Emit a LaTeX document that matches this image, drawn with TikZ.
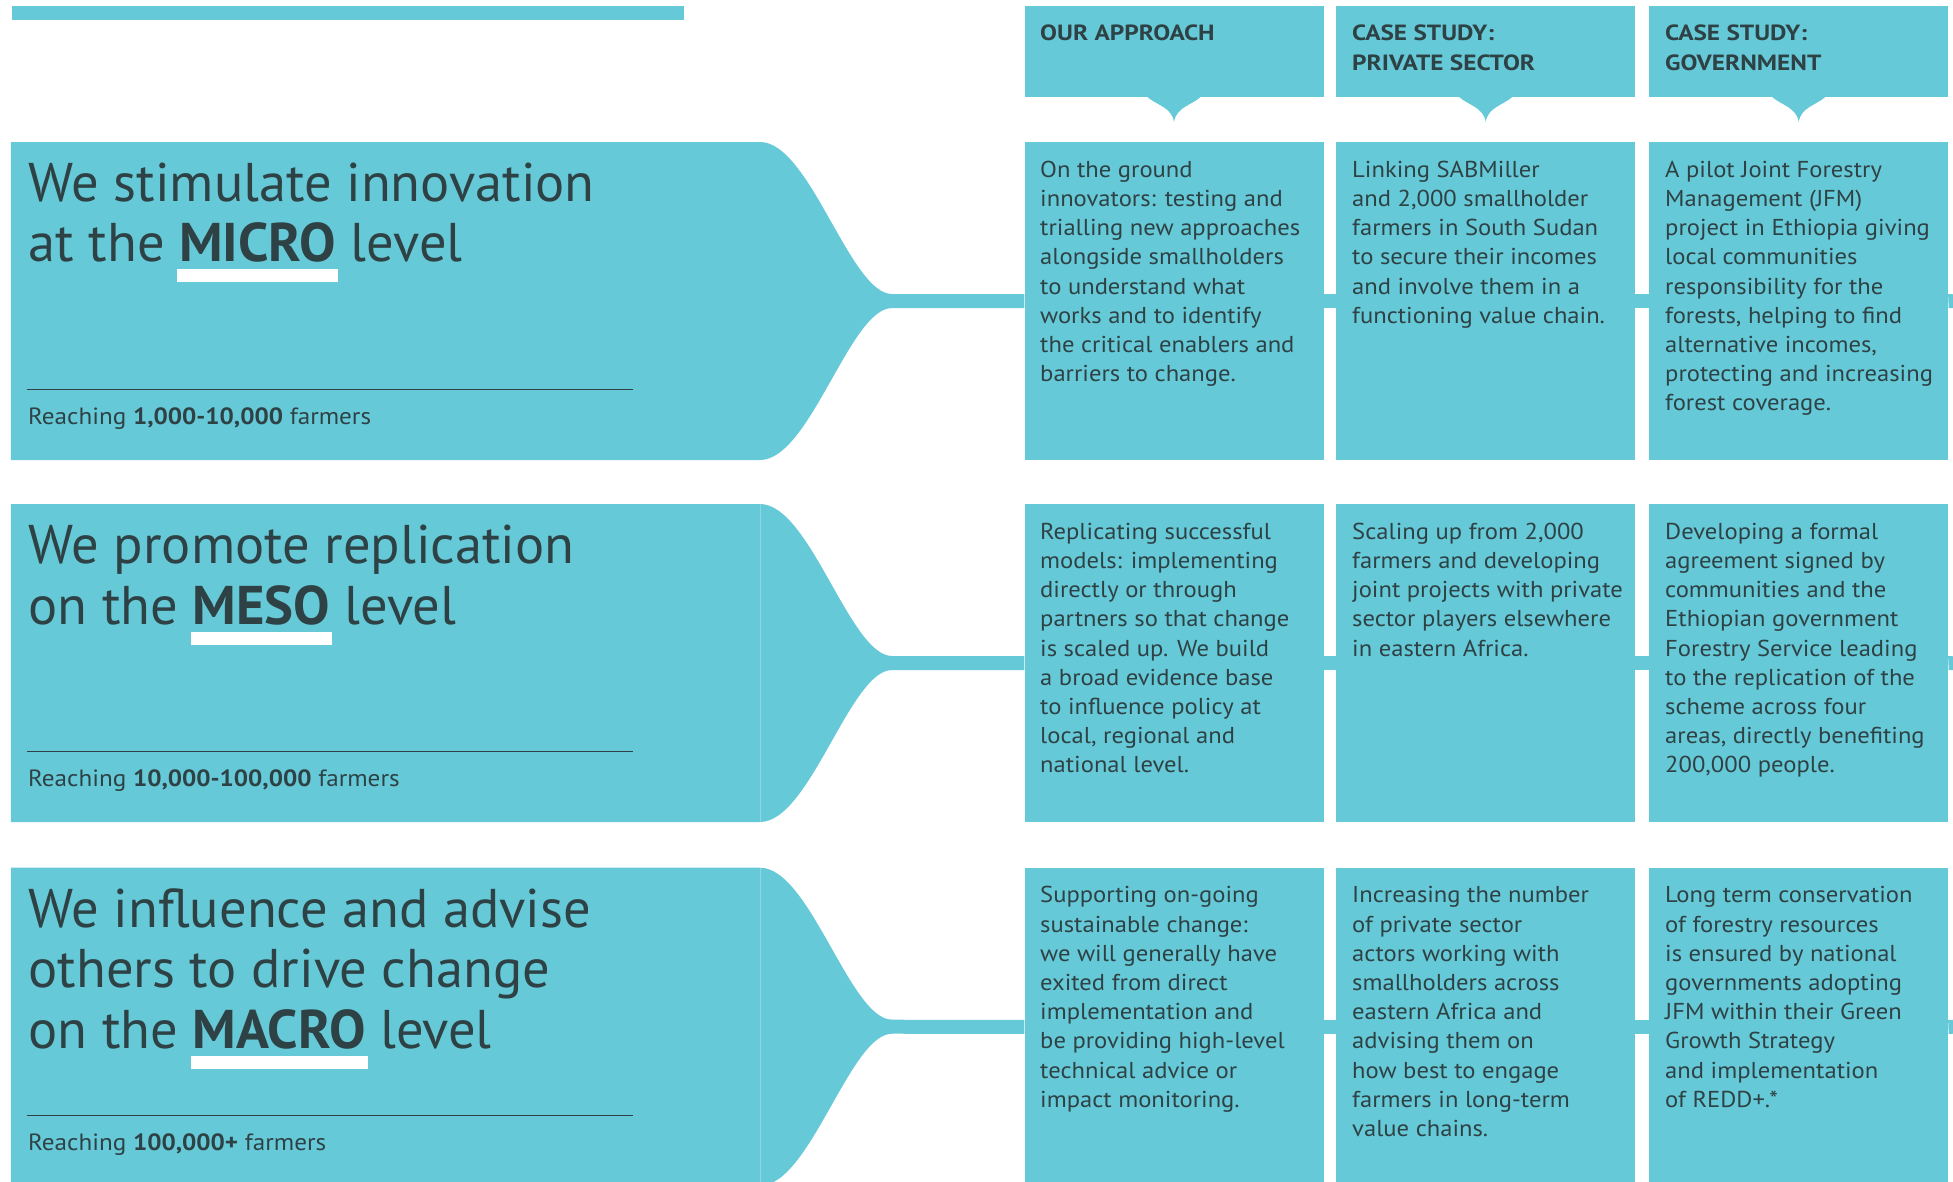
\documentclass[tikz,border=0pt]{standalone}
\usepackage{fontspec}
\setmainfont{PT Sans}
\newfontfamily\bodyfont{PT Sans}[FakeStretch=1.07]
\newfontfamily\headfont{PT Sans Bold}[FakeStretch=1.15]
\usetikzlibrary{calc}
\definecolor{teal1}{HTML}{66C9D7}
\definecolor{ink}{HTML}{2E4245}
\newcommand\ulword[1]{\setbox0=\hbox{\bfseries #1}\rlap{\kern-2pt\textcolor{white}{\rule[-20.3pt]{\dimexpr\wd0+4pt\relax}{12.6pt}}}\box0\relax}
\newcommand\fl[1]{\rule{0pt}{#1}}
\newcommand\bannerpath[3]{% #1 top, #2 neck coordinate name, #3 seam (1/0)
  \fill[teal1] (10.8,#1) -- (760,#1) .. controls (810,#1) and (850,{#1+152}) .. (892,{#1+152})
     -- (892,{#1+166}) .. controls (850,{#1+166}) and (810,{#1+318}) .. (760,{#1+318})
     -- (10.8,{#1+318}) -- cycle;
  \ifnum#3=1 \draw[teal1!75!white, line width=0.8pt] (760,#1) -- (760,{#1+318}); \fi
  \coordinate (#2) at (880,{#1+159});
  \draw[ink, line width=1.2pt] (27,{#1+247.5}) -- (633,{#1+247.5});
}
\begin{document}
\begin{tikzpicture}[x=1pt, y=-1pt,
  box/.style={fill=teal1, draw=none, minimum width=299pt, minimum height=318pt, anchor=north west, inner sep=0pt},
  headbox/.style={box, minimum height=90.7pt},
  body/.style={anchor=north west, align=left, inner sep=0pt, text=ink, font=\bodyfont\fontsize{23}{29.2}\selectfont},
  head/.style={anchor=north west, align=left, inner sep=0pt, text=ink, font=\headfont\fontsize{22}{30}\selectfont},
  title/.style={anchor=north west, align=left, inner sep=0pt, text=ink, font=\fontsize{54.5}{60.5}\selectfont},
  reach/.style={anchor=base west, inner sep=0pt, text=ink, font=\bodyfont\fontsize{23.5}{28}\selectfont},
  band/.style={draw=teal1, line width=14pt},
  pointer/.style={fill=teal1, draw=none}]
\useasboundingbox (0,0) rectangle (1953,1181);
\clip (0,0) rectangle (1953,1181);

% top bar
\node[fill=teal1, minimum width=672.5pt, minimum height=13.3pt, anchor=north west, inner sep=0pt] (topbar) at (11.5,6) {};

% headers
\node[headbox] (h1) at (1024.3,6) {};
\node[headbox] (h2) at (1336,6) {};
\node[headbox] (h3) at (1649,6) {};
\foreach \h in {h1,h2,h3}{
  \fill[pointer, shift={(\h.south)}] (-27,-0.5) .. controls (-18,8) and (-2,10) .. (0,25)
     .. controls (2,10) and (18,8) .. (27,-0.5) -- cycle;
}
\node[head] (ht1) at (1040,18.7) {\fl{22pt}OUR APPROACH};
\node[head] (ht2) at (1352,18.7) {\fl{22pt}CASE STUDY:\\PRIVATE SECTOR};
\node[head] (ht3) at (1665,18.7) {\fl{22pt}CASE STUDY:\\GOVERNMENT};

% ---------- row 1 ----------
\bannerpath{142}{n1}{0}
\node[title] (t1) at (28.5,146) {\fl{55pt}We stimulate innovation\\at the \ulword{MICRO} level};
\node[reach] (r1) at (28,424) {Reaching \textbf{1,000-10,000} farmers};
\node[box] (b11) at (1024.3,142) {};
\node[box] (b12) at (1336,142) {};
\node[box] (b13) at (1649,142) {};
\coordinate (e1) at (1953,301);
\draw[band] (n1) -- (b11.west);
\draw[band] (b11.east) -- (b12.west);
\draw[band] (b12.east) -- (b13.west);
\draw[band] (b13.east) -- (e1);
\node[body] (x11) at (1040,155) {\fl{22pt}On the ground\\innovators: testing and\\trialling new approaches\\alongside smallholders\\to understand what\\works and to identify\\the critical enablers and\\barriers to change.};
\node[body] (x12) at (1352,155) {\fl{22pt}Linking SABMiller\\and 2,000 smallholder\\farmers in South Sudan\\to secure their incomes\\and involve them in a\\functioning value chain.};
\node[body] (x13) at (1665,155) {\fl{22pt}A pilot Joint Forestry\\Management (JFM)\\project in Ethiopia giving\\local communities\\responsibility for the\\forests, helping to find\\alternative incomes,\\protecting and increasing\\forest coverage.};

% ---------- row 2 ----------
\bannerpath{504}{n2}{1}
\node[title] (t2) at (28.5,508.5) {\fl{55pt}We promote replication\\on the \ulword{MESO} level};
\node[reach] (r2) at (28,786) {Reaching \textbf{10,000-100,000} farmers};
\node[box] (b21) at (1024.3,504) {};
\node[box] (b22) at (1336,504) {};
\node[box] (b23) at (1649,504) {};
\coordinate (e2) at (1953,663);
\draw[band] (n2) -- (b21.west);
\draw[band] (b21.east) -- (b22.west);
\draw[band] (b22.east) -- (b23.west);
\draw[band] (b23.east) -- (e2);
\node[body] (x21) at (1040,517) {\fl{22pt}Replicating successful\\models: implementing\\directly or through\\partners so that change\\is scaled up. We build\\a broad evidence base\\to influence policy at\\local, regional and\\national level.};
\node[body] (x22) at (1352,517) {\fl{22pt}Scaling up from 2,000\\farmers and developing\\joint projects with private\\sector players elsewhere\\in eastern Africa.};
\node[body] (x23) at (1665,517) {\fl{22pt}Developing a formal\\agreement signed by\\communities and the\\Ethiopian government\\Forestry Service leading\\to the replication of the\\scheme across four\\areas, directly benefiting\\200,000 people.};

% ---------- row 3 ----------
\bannerpath{867.7}{n3}{1}
\node[title] (t3) at (28.5,872) {\fl{55pt}We influence and advise\\others to drive change\\on the \ulword{MACRO} level};
\node[reach] (r3) at (28,1150) {Reaching \textbf{100,000+} farmers};
\node[box] (b31) at (1024.3,867.7) {};
\node[box] (b32) at (1336,867.7) {};
\node[box] (b33) at (1649,867.7) {};
\coordinate (e3) at (1953,1026.7);
\draw[band] (n3) -- (b31.west);
\draw[band] (b31.east) -- (b32.west);
\draw[band] (b32.east) -- (b33.west);
\draw[band] (b33.east) -- (e3);
\node[body] (x31) at (1040,880.7) {\fl{22pt}Supporting on-going\\sustainable change:\\we will generally have\\exited from direct\\implementation and\\be providing high-level\\technical advice or\\impact monitoring.};
\node[body] (x32) at (1352,880.7) {\fl{22pt}Increasing the number\\of private sector\\actors working with\\smallholders across\\eastern Africa and\\advising them on\\how best to engage\\farmers in long-term\\value chains.};
\node[body] (x33) at (1665,880.7) {\fl{22pt}Long term conservation\\of forestry resources\\is ensured by national\\governments adopting\\JFM within their Green\\Growth Strategy\\and implementation\\of REDD+.*};
\end{tikzpicture}
\end{document}
